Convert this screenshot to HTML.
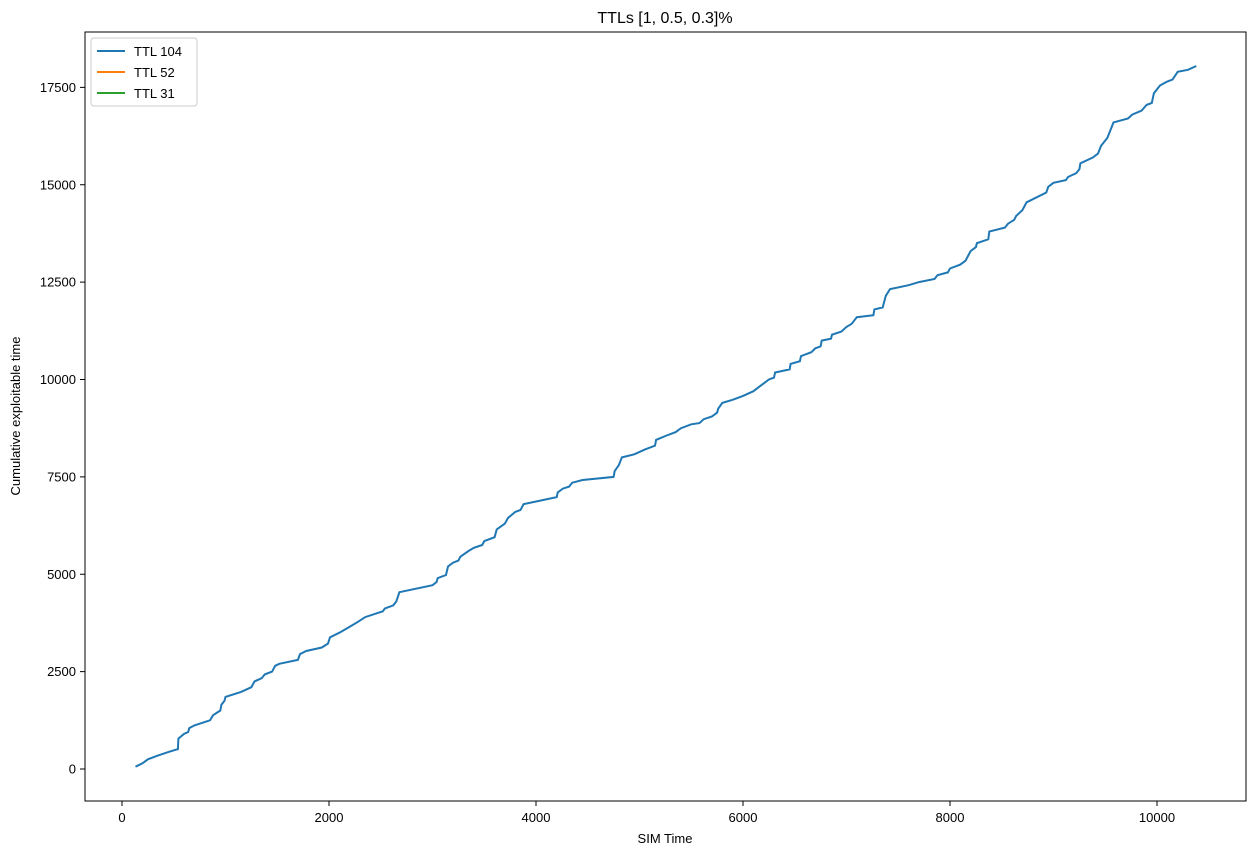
<!DOCTYPE html>
<html><head><meta charset="utf-8"><style>
body{margin:0;background:#fff;font-family:"Liberation Sans",sans-serif}
svg text{font-family:"Liberation Sans",sans-serif;fill:#000}
</style></head><body>
<svg id="chart" width="1259" height="855">
<text x="665" y="23" font-size="16" text-anchor="middle">TTLs [1, 0.5, 0.3]%</text>
<rect x="85" y="32" width="1161" height="769" fill="none" stroke="#000" stroke-width="1"/>
<g id="xt"></g><g id="yt"></g>
<text x="665" y="843" font-size="13" text-anchor="middle">SIM Time</text>
<text transform="translate(20,416) rotate(-90)" font-size="13" text-anchor="middle">Cumulative exploitable time</text>
<path id="s1" fill="none" stroke="#1f77b4" stroke-width="2"/>
<g>
<rect x="91" y="38" width="106" height="68" rx="3" fill="#fff" stroke="#ccc"/>
<line x1="97" y1="51" x2="125" y2="51" stroke="#1f77b4" stroke-width="2"/>
<text x="134" y="56" font-size="13">TTL 104</text>
<line x1="97" y1="72" x2="125" y2="72" stroke="#ff7f0e" stroke-width="2"/>
<text x="134" y="77" font-size="13">TTL 52</text>
<line x1="97" y1="93" x2="125" y2="93" stroke="#2ca02c" stroke-width="2"/>
<text x="134" y="98" font-size="13">TTL 31</text>
</g>
</svg>
<script>
const xTicks=[0,2000,4000,6000,8000,10000];
const yTicks=[0,2500,5000,7500,10000,12500,15000,17500];
const ttl104X=[130,200,250,350,450,540,545,600,640,650,700,850,880,920,950,960,990,1000,1150,1250,1280,1350,1380,1450,1480,1520,1700,1720,1780,1930,1990,2010,2100,2200,2280,2350,2520,2540,2620,2650,2680,3000,3040,3050,3130,3150,3200,3250,3270,3350,3400,3480,3500,3600,3620,3700,3730,3800,3850,3880,4200,4210,4260,4320,4350,4450,4750,4760,4800,4830,4950,5050,5150,5160,5250,5350,5400,5500,5580,5620,5700,5750,5760,5800,5900,6000,6100,6150,6200,6250,6300,6310,6450,6460,6550,6560,6660,6700,6750,6760,6850,6860,6950,7000,7050,7100,7260,7270,7350,7380,7420,7600,7700,7850,7880,7980,8000,8100,8150,8180,8200,8250,8260,8370,8380,8530,8560,8620,8640,8700,8740,8930,8950,9000,9120,9140,9220,9250,9260,9380,9430,9460,9520,9550,9580,9720,9760,9850,9900,9950,9970,10030,10100,10150,10200,10300,10380];
const ttl104Y=[60,150,250,350,440,510,780,900,950,1050,1120,1250,1380,1450,1500,1650,1750,1850,1980,2100,2250,2330,2430,2500,2650,2700,2800,2950,3030,3120,3220,3380,3500,3650,3780,3900,4050,4120,4200,4300,4540,4720,4800,4900,4980,5200,5300,5350,5450,5600,5680,5750,5850,5950,6150,6300,6450,6600,6650,6800,6980,7100,7200,7250,7350,7420,7500,7650,7800,8000,8080,8200,8300,8450,8550,8650,8750,8850,8880,8980,9050,9150,9250,9400,9480,9580,9700,9800,9900,10000,10050,10180,10260,10400,10470,10600,10700,10800,10850,11000,11050,11150,11230,11350,11430,11600,11650,11800,11850,12150,12320,12420,12500,12580,12680,12750,12850,12950,13050,13200,13300,13400,13500,13600,13800,13900,14000,14100,14200,14350,14550,14800,14950,15050,15120,15200,15300,15400,15550,15700,15800,16000,16200,16400,16600,16700,16800,16900,17050,17100,17350,17550,17650,17700,17900,17950,18050];
const ttl52X=[],ttl52Y=[],ttl31X=[],ttl31Y=[];
const sx=v=>122+v*0.1035, sy=v=>769-v*0.03895;
const NS="http://www.w3.org/2000/svg";
const xt=document.getElementById('xt'), yt=document.getElementById('yt');
xTicks.forEach(t=>{
 const l=document.createElementNS(NS,'line');
 l.setAttribute('x1',sx(t));l.setAttribute('x2',sx(t));l.setAttribute('y1',801);l.setAttribute('y2',806);l.setAttribute('stroke','#000');
 
 
 xt.appendChild(l);
 const tx=document.createElementNS(NS,'text');
 tx.setAttribute('x',sx(t));tx.setAttribute('y',822);tx.setAttribute('font-size','13');tx.setAttribute('text-anchor','middle');tx.textContent=t;
 
 
 xt.appendChild(tx);
});
yTicks.forEach(t=>{
 const l=document.createElementNS(NS,'line');
 l.setAttribute('x1',80);l.setAttribute('x2',85);l.setAttribute('y1',sy(t));l.setAttribute('y2',sy(t));l.setAttribute('stroke','#000');
 
 
 yt.appendChild(l);
 const tx=document.createElementNS(NS,'text');
 tx.setAttribute('x',76);tx.setAttribute('y',sy(t)+4.5);tx.setAttribute('font-size','13');tx.setAttribute('text-anchor','end');tx.textContent=t;
 
 
 yt.appendChild(tx);
});
document.getElementById('s1').setAttribute('d',ttl104X.map((x,i)=>(i?'L':'M')+sx(x).toFixed(1)+','+sy(ttl104Y[i]).toFixed(1)).join(''));
</script>
</body></html>
